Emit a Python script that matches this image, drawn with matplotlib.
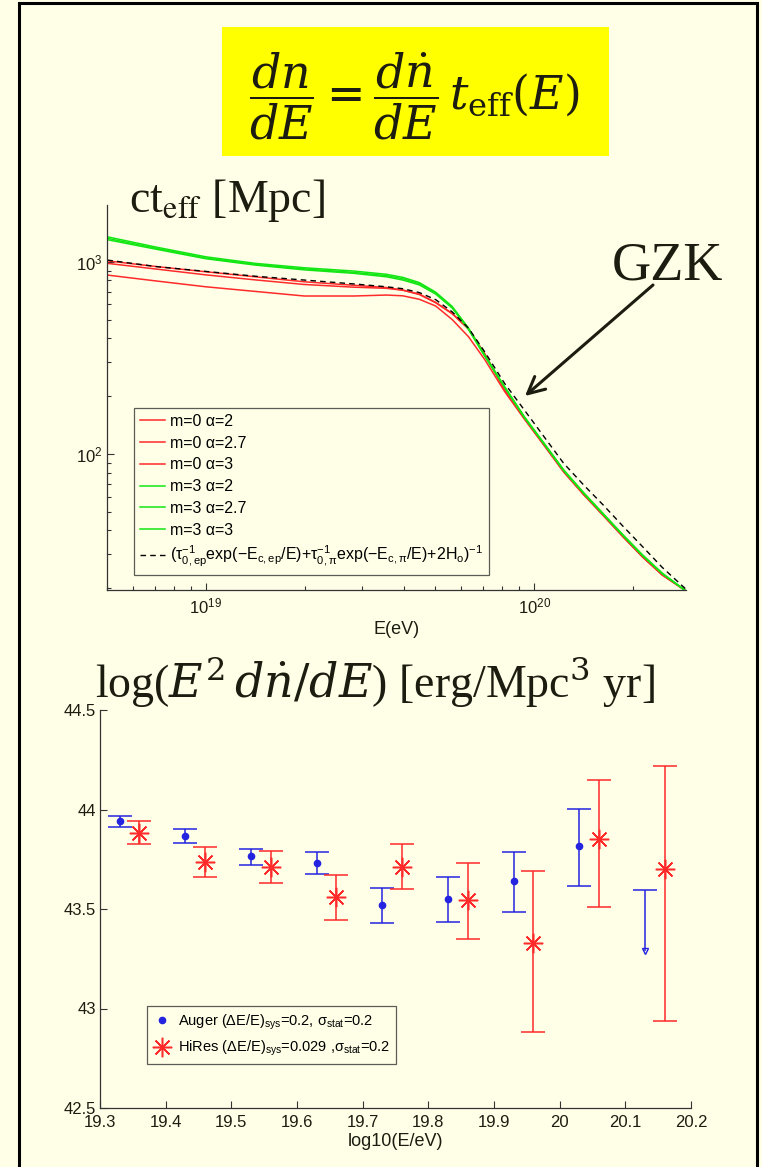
import numpy as np
import matplotlib
matplotlib.use("Agg")
import matplotlib.pyplot as plt
from matplotlib.patches import Rectangle
from matplotlib.ticker import LogLocator, NullFormatter, FixedLocator, FixedFormatter

plt.rcParams['font.family'] = ['Liberation Sans', 'DejaVu Sans']
plt.rcParams['mathtext.fontset'] = 'custom'
plt.rcParams['mathtext.rm'] = 'Liberation Sans'
plt.rcParams['mathtext.it'] = 'Liberation Sans:italic'
plt.rcParams['mathtext.sf'] = 'Liberation Sans'

BG = '#FFFFE8'
INK = '#1c1c10'
RED = '#ff2a2a'
GREEN = '#14e614'
BLUE = '#2424e0'

# ============================
# EFFECTIVE LENGTH ct_eff (log10 E/eV  vs  log10 ct/Mpc)
# ============================
log_e = [18.70, 18.85, 19.00, 19.15, 19.30, 19.45, 19.55, 19.60, 19.65, 19.70, 19.75,
         19.80, 19.85, 19.91, 19.97, 20.03, 20.09, 20.15, 20.21, 20.27, 20.33, 20.39, 20.46]

ct_m0_a2   = [3.005, 2.975, 2.948, 2.922, 2.896, 2.878, 2.866, 2.853, 2.832, 2.789, 2.732,
              2.652, 2.520, 2.335, 2.186, 2.048, 1.909, 1.792, 1.683, 1.572, 1.466, 1.372, 1.290]
ct_m0_a27  = [2.992, 2.962, 2.932, 2.906, 2.882, 2.868, 2.862, 2.852, 2.830, 2.787, 2.730,
              2.650, 2.518, 2.333, 2.185, 2.047, 1.908, 1.791, 1.682, 1.571, 1.465, 1.371, 1.290]
ct_m0_a3   = [2.931, 2.900, 2.870, 2.846, 2.822, 2.822, 2.827, 2.823, 2.805, 2.770, 2.700,
              2.610, 2.490, 2.325, 2.182, 2.045, 1.906, 1.789, 1.680, 1.570, 1.464, 1.370, 1.290]
ct_m3_a2   = [3.130, 3.076, 3.026, 2.992, 2.969, 2.952, 2.935, 2.919, 2.892, 2.842, 2.768,
              2.655, 2.513, 2.350, 2.194, 2.056, 1.917, 1.800, 1.690, 1.580, 1.475, 1.380, 1.290]
ct_m3_a27  = [3.122, 3.070, 3.020, 2.987, 2.963, 2.945, 2.928, 2.912, 2.886, 2.838, 2.765,
              2.652, 2.510, 2.348, 2.192, 2.054, 1.915, 1.798, 1.688, 1.578, 1.473, 1.378, 1.290]
ct_m3_a3   = [3.115, 3.065, 3.016, 2.983, 2.958, 2.940, 2.922, 2.905, 2.880, 2.832, 2.760,
              2.648, 2.507, 2.346, 2.190, 2.052, 1.913, 1.796, 1.686, 1.576, 1.471, 1.377, 1.290]
ct_approx  = [3.009, 2.975, 2.950, 2.925, 2.905, 2.885, 2.870, 2.860, 2.840, 2.803, 2.740,
              2.655, 2.530, 2.367, 2.229, 2.090, 1.951, 1.840, 1.735, 1.625, 1.518, 1.410, 1.300]

curve_labels = ["m=0 α=2", "m=0 α=2.7", "m=0 α=3", "m=3 α=2", "m=3 α=2.7", "m=3 α=3"]
approx_label = (r"(τ$_{\mathrm{0,ep}}^{-1}$exp(−E$_{\mathrm{c,ep}}$/E)+"
                r"τ$_{\mathrm{0,\pi}}^{-1}$exp(−E$_{\mathrm{c,\pi}}$/E)+2H$_{\mathrm{o}}$)$^{-1}$")

# ============================
# ENERGY INJECTION: log10(E/eV) vs log(E^2 dn/dE)
# ============================
auger_x     = [19.33, 19.43, 19.53, 19.63, 19.73, 19.83, 19.93, 20.03]
auger_y     = [43.94, 43.867, 43.764, 43.733, 43.519, 43.549, 43.64, 43.815]
auger_hi    = [43.968, 43.90, 43.804, 43.785, 43.606, 43.66, 43.787, 44.005]
auger_lo    = [43.914, 43.834, 43.72, 43.678, 43.432, 43.437, 43.486, 43.618]
# last Auger bin is an upper limit
auger_ul_x   = 20.13
auger_ul_y   = 43.287
auger_ul_top = 43.595

hires_x  = [19.36, 19.46, 19.56, 19.66, 19.76, 19.86, 19.96, 20.06, 20.16]
hires_y  = [43.881, 43.737, 43.71, 43.558, 43.71, 43.546, 43.328, 43.852, 43.70]
hires_hi = [43.944, 43.812, 43.792, 43.673, 43.827, 43.733, 43.69, 44.149, 44.219]
hires_lo = [43.829, 43.662, 43.631, 43.446, 43.601, 43.349, 42.88, 43.511, 42.938]

x_ticks = [19.3, 19.4, 19.5, 19.6, 19.7, 19.8, 19.9, 20.0, 20.1, 20.2]
x_tick_labels = ["19.3", "19.4", "19.5", "19.6", "19.7", "19.8", "19.9", "20", "20.1", "20.2"]
y_ticks = [42.5, 43.0, 43.5, 44.0, 44.5]
y_tick_labels = ["42.5", "43", "43.5", "44", "44.5"]

# ============================
# FIGURE
# ============================
W, H = 762, 1167
fig = plt.figure(figsize=(W / 100, H / 100), dpi=100, facecolor=BG)

def fx(px):
    return px / W

def fy(py):
    return 1 - py / H

# slide frame
fig.add_artist(Rectangle((fx(19), fy(1200)), fx(757) - fx(19), fy(3) - fy(1200),
                         transform=fig.transFigure, fill=False, lw=2.2, ec='black'))

# yellow formula box
fig.add_artist(Rectangle((fx(222), fy(156)), fx(609) - fx(222), fy(27) - fy(156),
                         transform=fig.transFigure, fc='#FFFF00', ec='none'))
fig.text(fx(414), fy(96), r'$\dfrac{dn}{dE}=\dfrac{d\dot{n}}{dE}\,t_{\mathrm{eff}}(E)$',
         fontsize=33, math_fontfamily='dejavuserif', color=INK, ha='center', va='center')

def style_axes(ax):
    ax.set_facecolor('none')
    for s in ('top', 'right'):
        ax.spines[s].set_visible(False)
    for s in ('left', 'bottom'):
        ax.spines[s].set_color('#333333')
        ax.spines[s].set_linewidth(0.9)
    ax.tick_params(which='both', direction='in', colors='#333333', labelcolor=INK,
                   labelsize=12, width=0.8)
    ax.tick_params(axis='x', pad=5)
    ax.tick_params(axis='y', pad=3)
    ax.tick_params(which='major', length=5)
    ax.tick_params(which='minor', length=3)

# ---- top panel ----
ax1 = fig.add_axes([fx(107), fy(590), fx(686) - fx(107), fy(205) - fy(590)])
style_axes(ax1)
E = np.power(10.0, log_e)
for vals, lab, col in zip([ct_m0_a2, ct_m0_a27, ct_m0_a3, ct_m3_a2, ct_m3_a27, ct_m3_a3],
                          curve_labels, [RED] * 3 + [GREEN] * 3):
    ax1.plot(E, np.power(10.0, vals), color=col, lw=1.1, label=lab)
ax1.plot(E, np.power(10.0, ct_approx), color='black', lw=1.0, ls=(0, (4, 3)), label=approx_label)
ax1.set_xscale('log')
ax1.set_yscale('log')
ax1.set_xlim(5e18, 2.9e20)
ax1.set_ylim(19.6, 1975)
ax1.xaxis.set_major_locator(LogLocator(base=10))
ax1.xaxis.set_minor_locator(LogLocator(base=10, subs=np.arange(2, 10)))
ax1.xaxis.set_minor_formatter(NullFormatter())
ax1.yaxis.set_minor_locator(LogLocator(base=10, subs=np.arange(2, 10)))
ax1.yaxis.set_minor_formatter(NullFormatter())
ax1.set_xlabel("E(eV)", fontsize=13, color=INK, labelpad=3)

leg1 = ax1.legend(loc='lower left', bbox_to_anchor=(0.0466, 0.039), borderaxespad=0,
                  fontsize=11.5, frameon=True, fancybox=False, handlelength=1.6,
                  handletextpad=0.3, labelspacing=0.42, borderpad=0.35)
leg1.get_frame().set_facecolor('none')
leg1.get_frame().set_edgecolor('#333333')
leg1.get_frame().set_linewidth(0.9)

fig.text(fx(129), fy(212), r'ct$_{\mathrm{eff}}$ [Mpc]', family='Liberation Serif',
         math_fontfamily='stix', fontsize=33, color=INK, va='baseline')
fig.text(fx(612), fy(279), 'GZK', family='Liberation Serif', fontsize=39,
         color=INK, va='baseline')
ax1.annotate('', xy=(fx(525), fy(396)), xycoords='figure fraction',
             xytext=(fx(653), fy(285)), textcoords='figure fraction',
             arrowprops=dict(arrowstyle='->', lw=2.2, color=INK, mutation_scale=30,
                             shrinkA=0, shrinkB=0))

# ---- bottom panel ----
ax2 = fig.add_axes([fx(100), fy(1108), fx(691) - fx(100), fy(710) - fy(1108)])
style_axes(ax2)
cap = 8.6
a_err = [np.subtract(auger_y, auger_lo), np.subtract(auger_hi, auger_y)]
ax2.errorbar(auger_x, auger_y, yerr=a_err, fmt='none', ecolor=BLUE, elinewidth=1.1,
             capsize=cap, capthick=1.1)
ax2.plot(auger_x, auger_y, ls='none', marker='o', ms=4.5, color=BLUE,
         label=r'Auger (ΔE/E)$_{\rm sys}$=0.2, σ$_{\rm stat}$=0.2')
ax2.vlines(auger_ul_x, auger_ul_y, auger_ul_top, color=BLUE, lw=1.1)
ax2.plot(auger_ul_x, auger_ul_top, marker='_', ms=2 * cap, mew=1.1, color=BLUE)
ax2.plot(auger_ul_x, auger_ul_y, marker='v', ms=4, mfc='none', mec=BLUE, mew=1.0)
h_err = [np.subtract(hires_y, hires_lo), np.subtract(hires_hi, hires_y)]
ax2.errorbar(hires_x, hires_y, yerr=h_err, fmt='none', ecolor=RED, elinewidth=1.1,
             capsize=cap, capthick=1.1)
ax2.plot(hires_x, hires_y, ls='none', marker=(8, 2, 0), ms=14, mew=1.1, color=RED,
         label=r'HiRes (ΔE/E)$_{\rm sys}$=0.029 ,σ$_{\rm stat}$=0.2')
ax2.set_xlim(19.3, 20.2)
ax2.set_ylim(42.5, 44.5)
ax2.xaxis.set_major_locator(FixedLocator(x_ticks))
ax2.xaxis.set_major_formatter(FixedFormatter(x_tick_labels))
ax2.yaxis.set_major_locator(FixedLocator(y_ticks))
ax2.yaxis.set_major_formatter(FixedFormatter(y_tick_labels))
ax2.set_xlabel("log10(E/eV)", fontsize=13, color=INK, labelpad=2)

leg2 = ax2.legend(loc='lower left', bbox_to_anchor=(0.0795, 0.1106), borderaxespad=0,
                  fontsize=10.5, frameon=True, fancybox=False, handlelength=1.2,
                  handletextpad=0.5, labelspacing=0.5, borderpad=0.4)
leg2.get_frame().set_facecolor('none')
leg2.get_frame().set_edgecolor('#333333')
leg2.get_frame().set_linewidth(0.9)

fig.text(fx(95), fy(698), r'log($E^{2}\,d\dot{n}/dE$) [erg/Mpc$^3$ yr]', family='Liberation Serif',
         math_fontfamily='dejavuserif', fontsize=33, color=INK, va='baseline')

fig.savefig("out.png", dpi=100, facecolor=BG)
